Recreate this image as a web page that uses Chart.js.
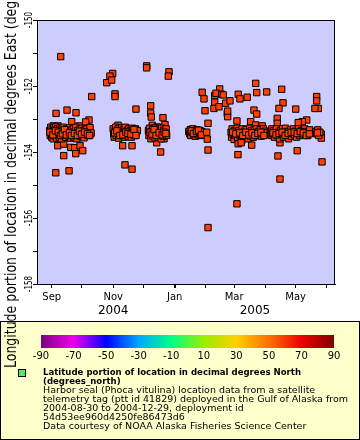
<!DOCTYPE html>
<html><head><meta charset="utf-8">
<script src="https://cdn.jsdelivr.net/npm/chart.js@4/dist/chart.umd.min.js"></script>
<style>html,body{margin:0;padding:0;background:#fff}canvas{display:block}</style>
</head><body>
<canvas id="c" width="360" height="440"></canvas>
<script>
// x values: days after 2004-09-01 ; y values: longitude (degrees East)
const monthStarts = [0, 30, 61, 91, 122, 153, 181, 212, 242, 273];
const monthLabels = ['Sep', '', 'Nov', '', 'Jan', '', 'Mar', '', 'May', ''];
const yearLabels = [['2004', 61], ['2005', 201.7]];
const lonTicks = [-158, -157, -156, -155, -154, -153, -152, -151, -150];
const colorbarTicks = [-90, -70, -50, -30, -10, 10, 30, 50, 70, 90];

const augOct = [
  [8.9,-151.11],[4.3,-152.83],[15.2,-152.73],[24.1,-152.81],[19.8,-153.08],[37.0,-153.03],[39.7,-152.32],
  [1.6,-153.21],[6.2,-153.21],[27.1,-153.21],[33.7,-153.09],[38.7,-153.45],[6.0,-153.81],[11.9,-153.76],
  [18.8,-153.86],[22.8,-153.87],[28.1,-153.81],[30.8,-153.96],[23.8,-154.05],[11.9,-154.11],[4.0,-154.63],[17.2,-154.57],
  [-2,-153.35],[-1.5,-153.5],[-1,-153.25],[-0.5,-153.42],[0,-153.55],[0.5,-153.3],[1,-153.38],[1.5,-153.6],[2,-153.27],
  [2.5,-153.45],[3,-153.33],[3.5,-153.52],[4,-153.24],[4.5,-153.4],[5,-153.58],[5.5,-153.3],[6,-153.47],[7,-153.36],
  [7.5,-153.55],[8,-153.28],[9,-153.44],[9.5,-153.33],[10,-153.6],[11,-153.38],[11.5,-153.25],[12,-153.5],[13,-153.35],
  [13.5,-153.42],[14,-153.56],[15,-153.3],[16,-153.45],[16.5,-153.36],[17,-153.52],[18,-153.27],[18.5,-153.4],[19,-153.58],
  [20,-153.33],[21,-153.47],[21.5,-153.3],[22,-153.55],[23,-153.38],[24,-153.25],[24.5,-153.46],[25,-153.6],[26,-153.35],
  [27,-153.42],[28,-153.3],[28.5,-153.53],[29,-153.4],[30,-153.28],[31,-153.48],[31.5,-153.36],[32,-153.57],[33,-153.33],
  [34,-153.44],[35,-153.3],[36,-153.5],[37,-153.38],[38,-153.26],[39,-153.42],
  [-1.8,-153.4],[1.2,-153.48],[3.8,-153.36],[6.5,-153.4],[8.6,-153.5],[10.5,-153.45],[12.6,-153.32],[14.5,-153.48],
  [17.6,-153.42],[19.6,-153.5],[22.6,-153.44],[25.5,-153.5],[27.6,-153.37],[29.6,-153.46],[32.6,-153.4],[35.5,-153.45],[37.6,-153.5]
];
const novDec = [
  [60.5,-151.62],[57.8,-151.70],[54.6,-151.90],[59.5,-151.82],[62.8,-152.24],[62.8,-152.32],[83.6,-152.70],
  [65.8,-153.19],[83.3,-153.34],[70.4,-153.81],[79.7,-153.81],[72.7,-154.39],[79.7,-154.52],
  [61,-153.3],[61.5,-153.45],[62,-153.55],[63,-153.35],[63.5,-153.25],[64,-153.5],[65,-153.4],[66,-153.3],[66.5,-153.58],
  [67,-153.45],[68,-153.35],[69,-153.5],[69.5,-153.27],[70,-153.42],[71,-153.33],[72,-153.55],[72.5,-153.38],[73,-153.25],
  [74,-153.47],[75,-153.35],[76,-153.52],[76.5,-153.3],[77,-153.42],[78,-153.36],[79,-153.55],[80,-153.28],[80.5,-153.45],
  [81,-153.38],[82,-153.5],[83,-153.3],[84,-153.42],[85,-153.35],
  [62.5,-153.42],[64.6,-153.36],[67.6,-153.5],[70.6,-153.48],[73.6,-153.4],[75.6,-153.44],[78.6,-153.46],[81.6,-153.32],[83.6,-153.5],
  [94.2,-151.39],[94.2,-151.45],[116.4,-151.57],[115.7,-151.70],[98.2,-152.60],[98.2,-152.82],[98.8,-152.94],[110.4,-152.96],
  [99.8,-153.19],[112.4,-153.17],[104.8,-153.24],[112.4,-153.42],[111.4,-153.60],[104.2,-153.72],[108.1,-154.00],
  [96,-153.35],[96.5,-153.5],[97,-153.28],[98,-153.45],[98.5,-153.6],[99,-153.38],[100,-153.3],[100.5,-153.52],[101,-153.42],
  [102,-153.35],[102.5,-153.57],[103,-153.27],[104,-153.45],[105,-153.38],[105.5,-153.55],[106,-153.3],[107,-153.48],
  [108,-153.36],[108.5,-153.6],[109,-153.28],[110,-153.43],[110.5,-153.52],[111,-153.34],[112,-153.47],[113,-153.38],
  [113.5,-153.3],[114,-153.5],
  [97.6,-153.4],[99.6,-153.46],[101.6,-153.32],[103.6,-153.5],[106.6,-153.42],[109.6,-153.48],[111.6,-153.4],[113.3,-153.44]
];
const janFeb = [
  [136,-153.38],[137,-153.45],[137.5,-153.32],[138,-153.5],[139,-153.4],[140,-153.3],[141,-153.47],[142,-153.36],
  [142.5,-153.52],[143,-153.42],[144,-153.33],[145,-153.48],[146,-153.4],[147,-153.35],[147.5,-153.5],[148,-153.43],[149,-153.38],
  [138.6,-153.36],[140.6,-153.44],[143.6,-153.38],[145.6,-153.34],[148.5,-153.48],
  [149.3,-152.19],[151.1,-152.39],[152.1,-152.75],[154.4,-153.61],[153.8,-153.40],[155.1,-153.13],[155.1,-153.94],[155.1,-156.29],
  [161.7,-152.29],[161.7,-152.49],[161.0,-152.68],[166.7,-152.09],[163.0,-152.22],[168.7,-152.25],[170.2,-152.27],
  [166.0,-152.63],[172.6,-152.52],[176.9,-152.45],[174.2,-152.83],[174.6,-152.93],[174.6,-152.76]
];
const marMay = [
  [185.1,-152.25],[186.8,-152.39],[194.0,-152.34],[202.4,-151.92],[203.4,-152.20],[213.3,-152.18],[200.7,-152.73],
  [203.4,-152.85],[183.8,-153.06],[197.4,-153.08],[202.4,-153.18],[208.9,-153.21],[198.4,-153.79],[184.8,-154.08],[183.8,-155.57],
  [178,-153.4],[178.5,-153.55],[179,-153.3],[180,-153.47],[181,-153.62],[181.5,-153.35],[182,-153.5],[183,-153.4],
  [184,-153.28],[184.5,-153.58],[185,-153.45],[186,-153.35],[187,-153.52],[188,-153.42],[188.5,-153.65],[189,-153.3],
  [190,-153.48],[191,-153.38],[192,-153.55],[193,-153.32],[194,-153.45],[195,-153.6],[196,-153.4],[196.5,-153.28],
  [197,-153.52],[198,-153.36],[199,-153.47],[200,-153.55],[201,-153.33],[202,-153.43],[203,-153.3],[204,-153.5],
  [205,-153.38],[206,-153.45],[207,-153.33],[208,-153.52],[209,-153.4],[210,-153.3],[211,-153.47],[212,-153.37],[213,-153.42],
  [185,-153.75],[188,-153.72],
  [179.6,-153.4],[182.6,-153.45],[186.6,-153.42],[189.6,-153.5],[192.6,-153.4],[195.6,-153.48],[198.6,-153.42],
  [201.6,-153.5],[204.6,-153.44],[207.6,-153.4],[210.6,-153.5],
  [228.2,-152.10],[229.5,-152.51],[225.5,-152.68],[242.1,-152.70],[262.9,-152.32],[262.9,-152.45],[264.5,-152.68],
  [261.2,-152.68],[223.8,-152.98],[223.8,-153.13],[223.8,-153.31],[253.0,-153.03],[248.6,-153.08],[244.6,-153.11],
  [226.5,-153.72],[243.6,-153.96],[224.5,-154.12],[226.5,-154.82],[267.5,-153.46],[267.5,-153.58],[268.2,-154.30],
  [217,-153.38],[218,-153.5],[218.5,-153.3],[219,-153.45],[220,-153.36],[221,-153.55],[222,-153.42],[223,-153.3],
  [224,-153.5],[225,-153.4],[226,-153.6],[227,-153.35],[228,-153.47],[229,-153.3],[230,-153.55],[231,-153.4],
  [232,-153.28],[233,-153.5],[234,-153.38],[235,-153.6],[236,-153.45],[237,-153.33],[238,-153.52],[239,-153.42],
  [240,-153.3],[241,-153.48],[242,-153.37],[243,-153.55],[244,-153.4],[245,-153.3],[246,-153.5],[247,-153.42],
  [248,-153.35],[249,-153.48],[250,-153.4],[251,-153.3],[252,-153.45],[253,-153.38],[254,-153.5],[255,-153.4],[256,-153.33],
  [219.6,-153.42],[222.6,-153.48],[225.6,-153.44],[228.6,-153.4],[231.6,-153.5],[234.6,-153.44],[237.6,-153.4],
  [240.6,-153.4],[243.6,-153.44],[246.6,-153.38],[249.6,-153.42],[252.6,-153.5],[255.6,-153.45],
  [262,-153.38],[263,-153.45],[264,-153.33],[265,-153.5],[266,-153.4],[263.6,-153.42]
];

const legendLines = [
  ['bold', 'Latitude portion of location in decimal degrees North'],
  ['bold', '(degrees_north)'],
  ['normal', 'Harbor seal (Phoca vitulina) location data from a satellite'],
  ['normal', 'telemetry tag (ptt id 41829) deployed in the Gulf of Alaska from'],
  ['normal', '2004-08-30 to 2004-12-29, deployment id'],
  ['normal', '54d53ee960d4250fe86473d6'],
  ['normal', 'Data courtesy of NOAA Alaska Fisheries Science Center']
];
const yTitle = 'Longitude portion of location in decimal degrees East (degrees_east)';

const FONT = 'DejaVu Sans';
Chart.defaults.font.family = FONT;
Chart.defaults.color = '#000';

const allPts = [].concat(augOct, novDec, janFeb, marMay).map(p => ({x: p[0], y: p[1]}));

const rainbow = ['#800080', '#ee00ee', '#0000ff', '#00a8ff', '#00ff88', '#99ee00', '#ffd000', '#ff7000', '#ee0000', '#800000'];

const deco = {
  id: 'deco',
  beforeDatasetsDraw(chart) {
    const a = chart.chartArea, ctx = chart.ctx;
    ctx.save();
    ctx.fillStyle = '#ccccff';
    ctx.fillRect(a.left, a.top, a.right - a.left, a.bottom - a.top);
    ctx.restore();
  },
  afterDraw(chart) {
    const a = chart.chartArea, ctx = chart.ctx;
    const ys = chart.scales.y, xs = chart.scales.x;
    ctx.save();
    // frame
    ctx.strokeStyle = '#000'; ctx.lineWidth = 1;
    ctx.strokeRect(a.left + 0.5, a.top + 0.5, a.right - a.left - 1, a.bottom - a.top);
    // y tick labels (rotated, compressed)
    ctx.fillStyle = '#000';
    ctx.font = '10px "' + FONT + '"';
    ctx.textAlign = 'center'; ctx.textBaseline = 'alphabetic';
    lonTicks.forEach(v => {
      if (v % 2 !== 0) return;
      const py = ys.getPixelForValue(v);
      ctx.save(); ctx.translate(31.8, py); ctx.rotate(-Math.PI / 2); ctx.scale(0.72, 1);
      ctx.fillText(String(v), 0, 0); ctx.restore();
    });
    // year labels
    ctx.font = '12px "' + FONT + '"';
    ctx.textBaseline = 'middle';
    yearLabels.forEach(([t, v]) => ctx.fillText(t, xs.getPixelForValue(v), 311));
    // legend box
    ctx.fillStyle = '#ffffcc';
    ctx.fillRect(0.5, 321.5, 359, 118);
    ctx.strokeStyle = '#000';
    ctx.strokeRect(0.5, 321.5, 359, 118);
    // colorbar
    const cbL = 41, cbR = 334, cbT = 335, cbB = 348;
    const g = ctx.createLinearGradient(cbL, 0, cbR, 0);
    rainbow.forEach((c, i) => g.addColorStop(i / (rainbow.length - 1), c));
    ctx.fillStyle = g;
    ctx.fillRect(cbL, cbT, cbR - cbL, cbB - cbT);
    ctx.fillStyle = '#000';
    ctx.font = '10px "' + FONT + '"';
    ctx.textAlign = 'center'; ctx.textBaseline = 'middle';
    colorbarTicks.forEach(v => {
      const px = cbL + (v + 90) / 180 * (cbR - cbL);
      ctx.fillText(String(v), px, 356);
    });
    // legend marker
    ctx.fillStyle = '#55ee55';
    ctx.fillRect(19, 370, 6, 6);
    ctx.strokeStyle = '#000';
    ctx.strokeRect(18.5, 369.5, 7, 7);
    // legend text
    ctx.fillStyle = '#000';
    ctx.textAlign = 'left'; ctx.textBaseline = 'middle';
    const ly = [372.7, 381.7, 390.7, 400, 409, 417.7, 426.7];
    ctx.font = 'bold 9.5px "' + FONT + '"';
    const bScale = 258 / ctx.measureText(legendLines[0][1]).width;
    ctx.font = '9.5px "' + FONT + '"';
    const nScale = 305 / ctx.measureText(legendLines[3][1]).width;
    legendLines.forEach(([w, t], i) => {
      ctx.font = (w === 'bold' ? 'bold ' : '') + '9.5px "' + FONT + '"';
      ctx.save(); ctx.translate(43, ly[i]); ctx.scale(w === 'bold' ? bScale : nScale, 1);
      ctx.fillText(t, 0, 0); ctx.restore();
    });
    // y axis title (rotated, compressed)
    ctx.font = '16px "' + FONT + '"';
    ctx.textAlign = 'center'; ctx.textBaseline = 'alphabetic';
    const w = ctx.measureText(yTitle).width;
    const cy = (a.top + a.bottom) / 2;
    ctx.save(); ctx.translate(15.5, cy); ctx.rotate(-Math.PI / 2); ctx.scale(432 / w, 1);
    ctx.fillText(yTitle, 0, 0); ctx.restore();
    ctx.restore();
  }
};

new Chart(document.getElementById('c'), {
  type: 'scatter',
  data: { datasets: [{
    data: allPts,
    pointStyle: 'rect',
    pointRadius: 4.5,
    backgroundColor: '#ff4000',
    borderColor: '#000',
    borderWidth: 1
  }]},
  options: {
    responsive: false,
    animation: false,
    devicePixelRatio: 1,
    layout: { padding: { top: 20, right: 25, left: 0, bottom: 0 } },
    plugins: { legend: { display: false }, tooltip: { enabled: false } },
    scales: {
      x: {
        type: 'linear', min: -14.6, max: 281.1,
        afterBuildTicks: s => { s.ticks = monthStarts.map(v => ({ value: v })); },
        afterFit: s => { s.height = 156; },
        grid: { drawOnChartArea: false, color: '#000', tickLength: 4,
                lineWidth: c => (c.tick && c.tick.value === 122) ? 2 : 1 },
        border: { display: true, color: '#000' },
        ticks: { callback: (v, i) => monthLabels[i], font: { size: 10 }, color: '#000',
                 maxRotation: 0, minRotation: 0, autoSkip: false, padding: 3 }
      },
      y: {
        type: 'linear', min: -158, max: -150,
        afterBuildTicks: s => { s.ticks = lonTicks.map(v => ({ value: v })); },
        afterFit: s => { s.width = 37; },
        grid: { drawOnChartArea: false, color: '#000', tickLength: 4 },
        border: { display: true, color: '#000' },
        ticks: { callback: () => '', autoSkip: false }
      }
    }
  },
  plugins: [deco]
});
</script>
</body></html>
